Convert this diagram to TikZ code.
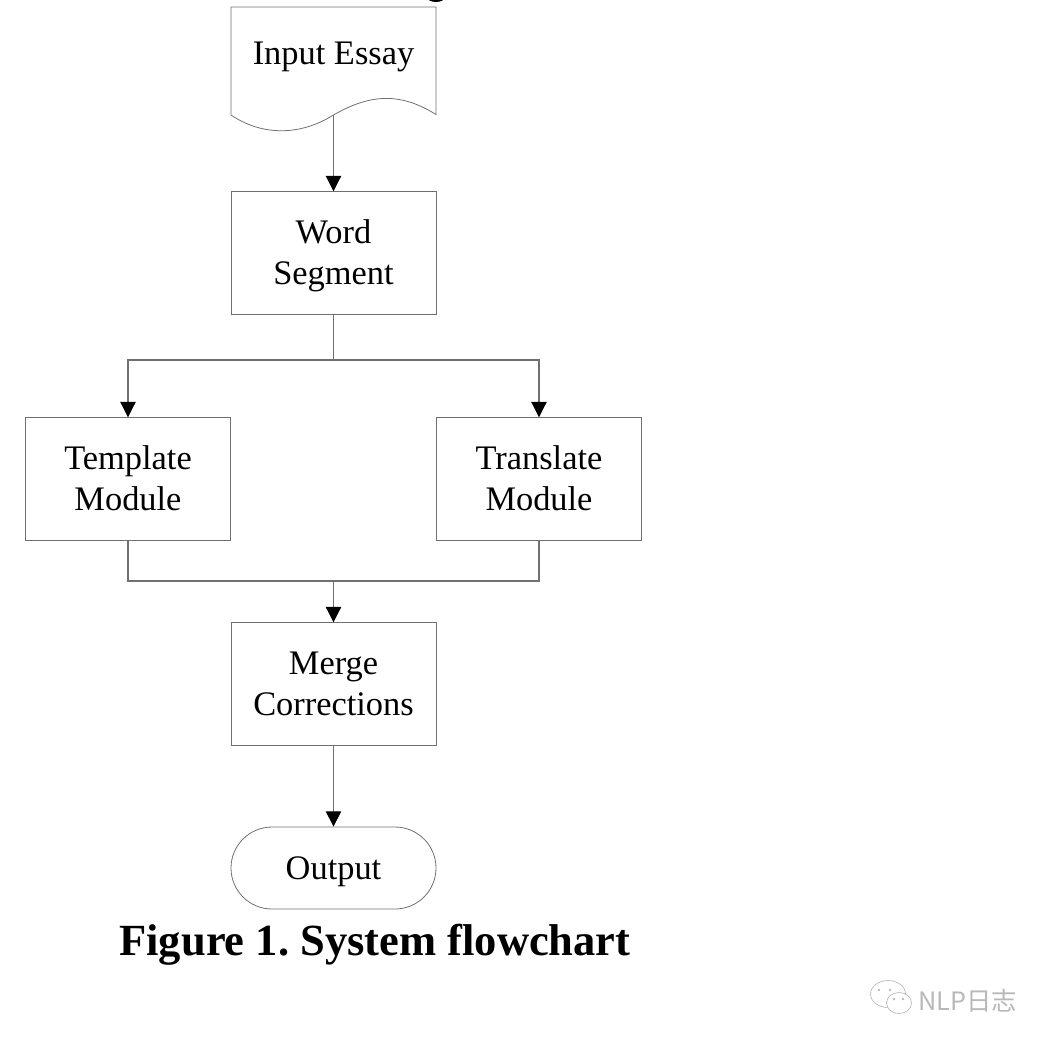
\documentclass[tikz,border=0pt]{standalone}
\usepackage{fontspec}
\setmainfont{Liberation Serif}
\newfontfamily\cjk{Noto Sans CJK SC}
\usetikzlibrary{arrows.meta,positioning}
\definecolor{edgegray}{HTML}{707070}
\definecolor{markgray}{HTML}{B8B8B8}
% two-line box label, moved vertically by #1 without changing the box size
\newcommand\boxlabel[2]{\raisebox{#1}[\height][\depth]{\parbox{150pt}{\centering\fontsize{25.8}{31}\selectfont #2\par}}}
\tikzset{
  x=0.75pt,y=-0.75pt,
  flowtip/.tip={Triangle[length=11.5pt,width=11.5pt,fill=black,color=black]},
  boxnode/.style={draw=edgegray,line width=0.6pt,minimum width=153.75pt,minimum height=92pt,inner sep=0pt,align=center,font=\fontsize{25.8}{31}\selectfont},
  flowline/.style={draw=edgegray,line width=0.8pt},
  flowarrow/.style={flowline,-flowtip},
  flowfork/.style={flowline,flowtip-flowtip},
  textonly/.style={font=\fontsize{25.8}{31}\selectfont,inner sep=0pt,align=center},
}
\begin{document}
\begin{tikzpicture}
\useasboundingbox (0,0) rectangle (1052,1046);
\clip (0,0) rectangle (1052,1046);

% document shape with a wavy lower edge
\draw[draw=edgegray,line width=0.6pt] (231,7) -- (436,7) -- (436,114.5)
  .. controls (400,92) and (370,94) .. (333.5,115)
  .. controls (300,136) and (262,136) .. (231,115) -- cycle;
\node[textonly] (input) at (333.5,57) {Input Essay};
\coordinate (inputout) at (333.5,115);

\node[boxnode] (word) at (333.5,253) {\boxlabel{-1.9pt}{Word\\Segment}};
\node[boxnode] (template) at (128,479) {\boxlabel{0.75pt}{Template\\Module}};
\node[boxnode] (translate) at (539,479) {\boxlabel{0.75pt}{Translate\\Module}};
\node[boxnode] (merge) at (333.5,684) {\boxlabel{0pt}{Merge\\Corrections}};
\node[boxnode,rounded corners=30.75pt,minimum height=61.5pt] (output) at (333.5,868) {\raisebox{-3pt}[\height][\depth]{Output}};

\coordinate (split) at (333.5,360);
\coordinate (join) at (333.5,581);

\draw[flowarrow] (inputout) -- (word.north);
\draw[flowline] (word.south) -- (split);
\draw[flowfork] (template.north) |- (split) -| (translate.north);
\draw[flowline] (template.south) |- (join) -| (translate.south);
\draw[flowarrow] (join) -- (merge.north);
\draw[flowarrow] (merge.south) -- (output.north);

\node[font=\frenchspacing\bfseries\fontsize{33.4}{36}\selectfont,inner sep=0pt] (caption) at (375,945) {Figure 1. System flowchart};

% descender of the heading above the figure
\fill[black] (436,-3) ellipse (9 and 5);

% account mark: two speech bubbles and the name
\begin{scope}[draw=markgray,line width=0.5pt]
  \draw (888,994) ellipse (17.5 and 13.5);
  \draw[fill=white] (899,1003) ellipse (12.5 and 10.5);
  \fill[markgray] (879,990) circle (1.3) (890,990) circle (1.3) (894,999) circle (1.3) (903,999) circle (1.3);
\end{scope}
\node[font=\cjk\fontsize{19}{22}\selectfont,text=markgray,inner sep=0pt,anchor=west] (brand) at (918,1001) {NLP日志};
\end{tikzpicture}
\end{document}
